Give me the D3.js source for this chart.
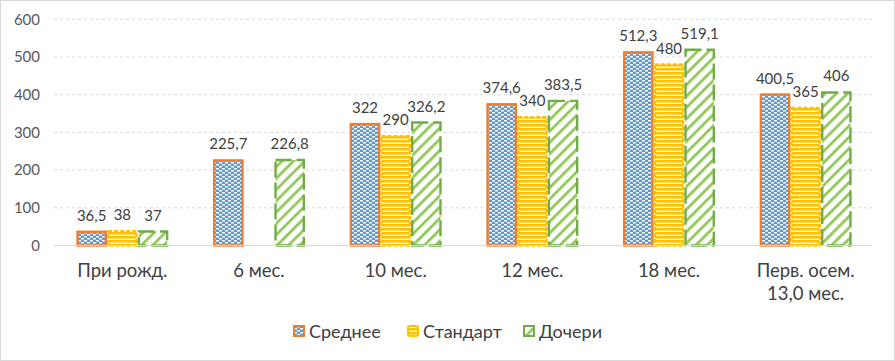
<!DOCTYPE html>
<html><head><meta charset="utf-8">
<script src="https://cdn.jsdelivr.net/npm/d3@7"></script>
<style>body{margin:0;background:#fff}svg{display:block;font-family:Lato,"Open Sans",sans-serif}</style>
</head><body><svg id="c" width="895" height="361"></svg>
<script>
const categories = ["При рожд.", "6 мес.", "10 мес.", "12 мес.", "18 мес.", "Перв. осем.\n13,0 мес."];
const seriesNames = ["Среднее", "Стандарт", "Дочери"];
const srednee = [36.5, 225.7, 322, 374.6, 512.3, 400.5];
const standart = [38, null, 290, 340, 480, 365];
const docheri = [37, 226.8, 326.2, 383.5, 519.1, 406];
const yTicks = [0, 100, 200, 300, 400, 500, 600];

const svg = d3.select("#c");
const defs = svg.append("defs");
const p1 = defs.append("pattern").attr("id","pSr").attr("patternUnits","userSpaceOnUse").attr("width",6).attr("height",4);
p1.append("rect").attr("width",6).attr("height",4).attr("fill","#5B9BD5");
p1.append("rect").attr("x",0).attr("y",0).attr("width",3).attr("height",1.5).attr("fill","#fff");
p1.append("rect").attr("x",3).attr("y",2).attr("width",3).attr("height",1.5).attr("fill","#fff");
const p2 = defs.append("pattern").attr("id","pSt").attr("patternUnits","userSpaceOnUse").attr("width",4).attr("height",4);
p2.append("rect").attr("width",4).attr("height",4).attr("fill","#fff");
p2.append("rect").attr("width",4).attr("height",2.6).attr("fill","#FFC000");
const p3 = defs.append("pattern").attr("id","pDo").attr("patternUnits","userSpaceOnUse").attr("width",8).attr("height",8).attr("patternTransform","rotate(45)");
p3.append("rect").attr("width",8).attr("height",8).attr("fill","#fff");
p3.append("rect").attr("x",0).attr("width",2.8).attr("height",8).attr("fill","#92C95A");

const series = [
  {name: seriesNames[0], values: srednee, fill: "url(#pSr)", stroke: "#ED7D31", dash: null},
  {name: seriesNames[1], values: standart, fill: "url(#pSt)", stroke: "#FFC000", dash: "4,2"},
  {name: seriesNames[2], values: docheri, fill: "url(#pDo)", stroke: "#70AD47", dash: "16,5"}
];

svg.append("rect").attr("x",0.5).attr("y",0.5).attr("width",894).attr("height",360).attr("fill","none").attr("stroke","#d9d9d9");

const x = d3.scaleBand().domain(categories).range([54, 874]).paddingInner(0).paddingOuter(0);
const y = d3.scaleLinear().domain([0, 600]).range([245.5, 19.3]);
const groupW = 92;
const x1 = d3.scaleBand().domain(seriesNames).range([0, groupW]);

svg.append("g").selectAll("line").data(yTicks.filter(d=>d>0)).join("line")
  .attr("x1",54).attr("x2",872).attr("y1",d=>y(d)).attr("y2",d=>y(d))
  .attr("stroke","#d9d9d9").attr("stroke-dasharray","3,3").attr("stroke-width",1);
const ya = svg.append("g").attr("transform","translate(40,0)").call(d3.axisLeft(y).tickValues(yTicks).tickSize(0).tickPadding(0));
ya.select(".domain").remove();
ya.selectAll("text").attr("font-size",15).attr("fill","#595959").attr("font-family","Lato,'Open Sans',sans-serif");

series.forEach(s => {
  const g = svg.append("g");
  const data = categories.map((c,i)=>({c, v:s.values[i]})).filter(d=>d.v!=null);
  g.selectAll("rect").data(data).join("rect")
    .attr("x", d => x(d.c) + (x.bandwidth()-groupW)/2 + x1(s.name) + 1.2)
    .attr("width", x1.bandwidth() - 2.4)
    .attr("y", d => y(d.v))
    .attr("height", d => y(0) - y(d.v))
    .attr("fill", s.fill).attr("stroke", s.stroke).attr("stroke-width", 2.4)
    .attr("stroke-dasharray", s.dash);
  g.selectAll("text").data(data).join("text")
    .attr("x", d => x(d.c) + (x.bandwidth()-groupW)/2 + x1(s.name) + x1.bandwidth()/2)
    .attr("y", d => y(d.v) - 11)
    .attr("text-anchor","middle").attr("font-size",15).attr("fill","#404040")
    .text(d => String(d.v).replace(".", ","));
});

svg.append("line").attr("x1",54).attr("x2",872).attr("y1",y(0)).attr("y2",y(0)).attr("stroke","#d9d9d9");

const xl = svg.append("g");
categories.forEach(c => {
  const t = xl.append("text").attr("x", x(c)+x.bandwidth()/2).attr("y", 277)
    .attr("text-anchor","middle").attr("font-size",18.5).attr("fill","#404040");
  c.split("\n").forEach((line,i) => t.append("tspan").attr("x", x(c)+x.bandwidth()/2).attr("dy", i===0?0:23).text(line));
});

const legX = [293, 407, 523];
const lg = svg.append("g");
series.forEach((s,i) => {
  lg.append("rect").attr("x", legX[i]+1).attr("y", 326).attr("width", 10).attr("height", 10)
    .attr("fill", s.fill).attr("stroke", s.stroke).attr("stroke-width", 2).attr("rx", i===1?2:0);
  lg.append("text").attr("x", legX[i]+16).attr("y", 338).attr("font-size",18).attr("fill","#404040").text(s.name);
});
</script></body></html>
